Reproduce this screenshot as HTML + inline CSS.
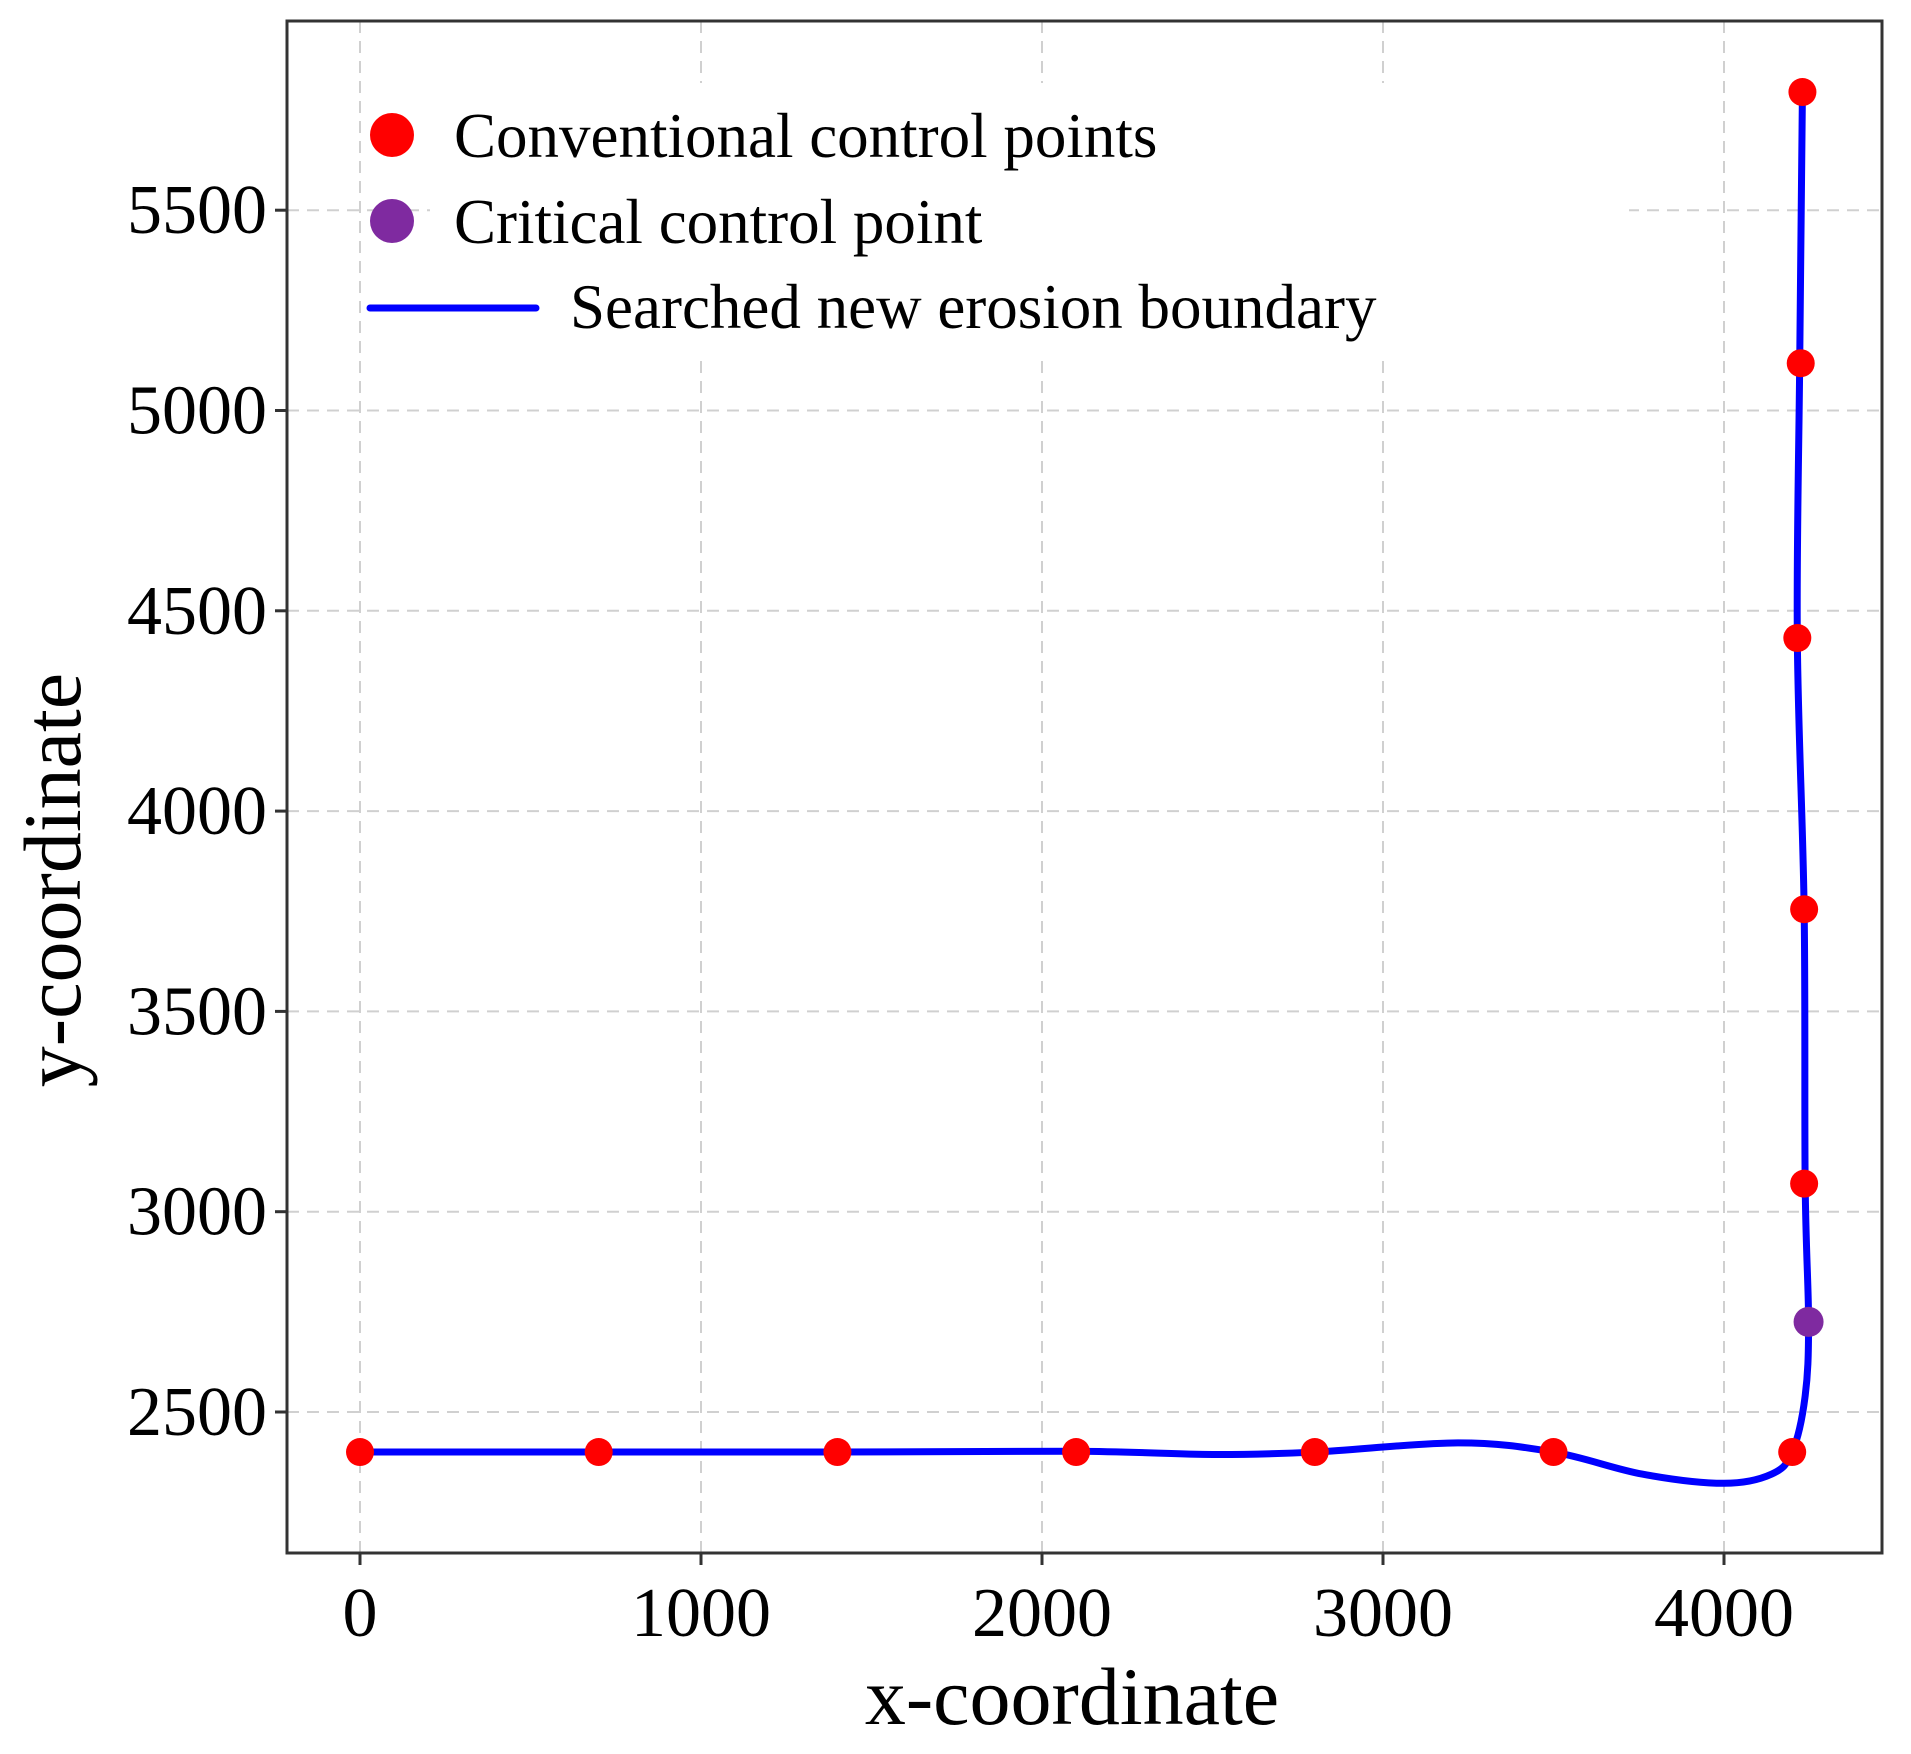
<!DOCTYPE html>
<html><head><meta charset="utf-8"><style>
html,body{margin:0;padding:0;background:#fff;}
svg text{font-family:"Liberation Serif",serif;fill:#000;}
</style></head><body>
<svg id="chart" width="1911" height="1749" viewBox="0 0 1911 1749" xmlns="http://www.w3.org/2000/svg">
<rect x="0" y="0" width="1911" height="1749" fill="#fff"/>
<g id="grid"></g>
<g id="series"></g>
<rect x="287" y="21" width="1595" height="1532" fill="none" stroke="#333" stroke-width="3"/>
<g id="axes"></g>
<text x="1072" y="1724" font-size="82" text-anchor="middle">x-coordinate</text>
<text transform="translate(80,880) rotate(-90)" font-size="82" text-anchor="middle">y-coordinate</text>
<g id="legend">
<rect x="430" y="83" width="1199" height="277" fill="#fff"/>
<circle cx="392" cy="135" r="22" fill="#ff0000"/>
<text x="454" y="157" font-size="63">Conventional control points</text>
<circle cx="392" cy="221" r="22" fill="#7f2aa0"/>
<text x="454" y="243" font-size="63">Critical control point</text>
<line x1="370" y1="308" x2="536" y2="308" stroke="#0000ff" stroke-width="7" stroke-linecap="round"/>
<text x="570" y="328" font-size="63">Searched new erosion boundary</text>
</g>
</svg>
<script>
const xTicks = [0, 1000, 2000, 3000, 4000];
const yTicks = [2500, 3000, 3500, 4000, 4500, 5000, 5500];
const conventionalX = [0, 700, 1400, 2100, 2800, 3500, 4200, 4235, 4235, 4215, 4225, 4230];
const conventionalY = [2400, 2400, 2400, 2400, 2400, 2400, 2400, 3070, 3755, 4432, 5118, 5795];
const criticalX = [4248];
const criticalY = [2725];
const curveX = [0, 700, 1400, 2100, 2500, 2800, 3220, 3500, 3760, 4000, 4140, 4200, 4238, 4248, 4238, 4235, 4215, 4222, 4230];
const curveY = [2400, 2400, 2400, 2402, 2394, 2400, 2423, 2400, 2345, 2322, 2345, 2400, 2540, 2725, 3070, 3755, 4432, 5118, 5795];

const X0 = 360, XS = 0.341;
const Y0 = 1412, YS = 200.3 / 500;
function sx(v){ return X0 + v * XS; }
function sy(v){ return Y0 - (v - 2500) * YS; }
const NS = 'http://www.w3.org/2000/svg';
function mk(tag, attrs, parent){
  const el = document.createElementNS(NS, tag);
  for (const k in attrs) el.setAttribute(k, attrs[k]);
  parent.appendChild(el);
  return el;
}
const grid = document.getElementById('grid');
const axes = document.getElementById('axes');
const series = document.getElementById('series');
xTicks.forEach(t => {
  const g = mk('line', {x1: sx(t), x2: sx(t), y1: 21, y2: 1553, stroke: '#d0d0d0', 'stroke-width': 2, 'stroke-dasharray': '12,8'}, grid);
  
  
  const tk = mk('line', {x1: sx(t), x2: sx(t), y1: 1553, y2: 1565, stroke: '#333', 'stroke-width': 3}, axes);
  
  
  const lb = mk('text', {x: sx(t), y: 1636, 'font-size': 70, 'text-anchor': 'middle'}, axes);
  lb.textContent = t;
  
  
});
yTicks.forEach(t => {
  const g = mk('line', {x1: 287, x2: 1882, y1: sy(t), y2: sy(t), stroke: '#d0d0d0', 'stroke-width': 2, 'stroke-dasharray': '12,8'}, grid);
  
  
  const tk = mk('line', {x1: 275, x2: 287, y1: sy(t), y2: sy(t), stroke: '#333', 'stroke-width': 3}, axes);
  
  
  const lb = mk('text', {x: 267, y: sy(t) + 23, 'font-size': 70, 'text-anchor': 'end'}, axes);
  lb.textContent = t;
  
  
});
const P = curveX.map((x, i) => [sx(x), sy(curveY[i])]);
let d = 'M' + P[0][0] + ',' + P[0][1];
for (let i = 0; i < P.length - 1; i++) {
  const p0 = P[Math.max(0, i - 1)], p1 = P[i], p2 = P[i + 1], p3 = P[Math.min(P.length - 1, i + 2)];
  const c1 = [p1[0] + (p2[0] - p0[0]) / 6, p1[1] + (p2[1] - p0[1]) / 6];
  const c2 = [p2[0] - (p3[0] - p1[0]) / 6, p2[1] - (p3[1] - p1[1]) / 6];
  d += ' C' + c1[0] + ',' + c1[1] + ' ' + c2[0] + ',' + c2[1] + ' ' + p2[0] + ',' + p2[1];
}
const path = mk('path', {d: d, fill: 'none', stroke: '#0000ff', 'stroke-width': 7, 'stroke-linejoin': 'round'}, series);


conventionalX.forEach((x, i) => {
  const c = mk('circle', {cx: sx(x), cy: sy(conventionalY[i]), r: 14, fill: '#ff0000'}, series);
  
  
});
criticalX.forEach((x, i) => {
  const c = mk('circle', {cx: sx(x), cy: sy(criticalY[i]), r: 15, fill: '#7f2aa0'}, series);
  
  
});
</script>
</body></html>
